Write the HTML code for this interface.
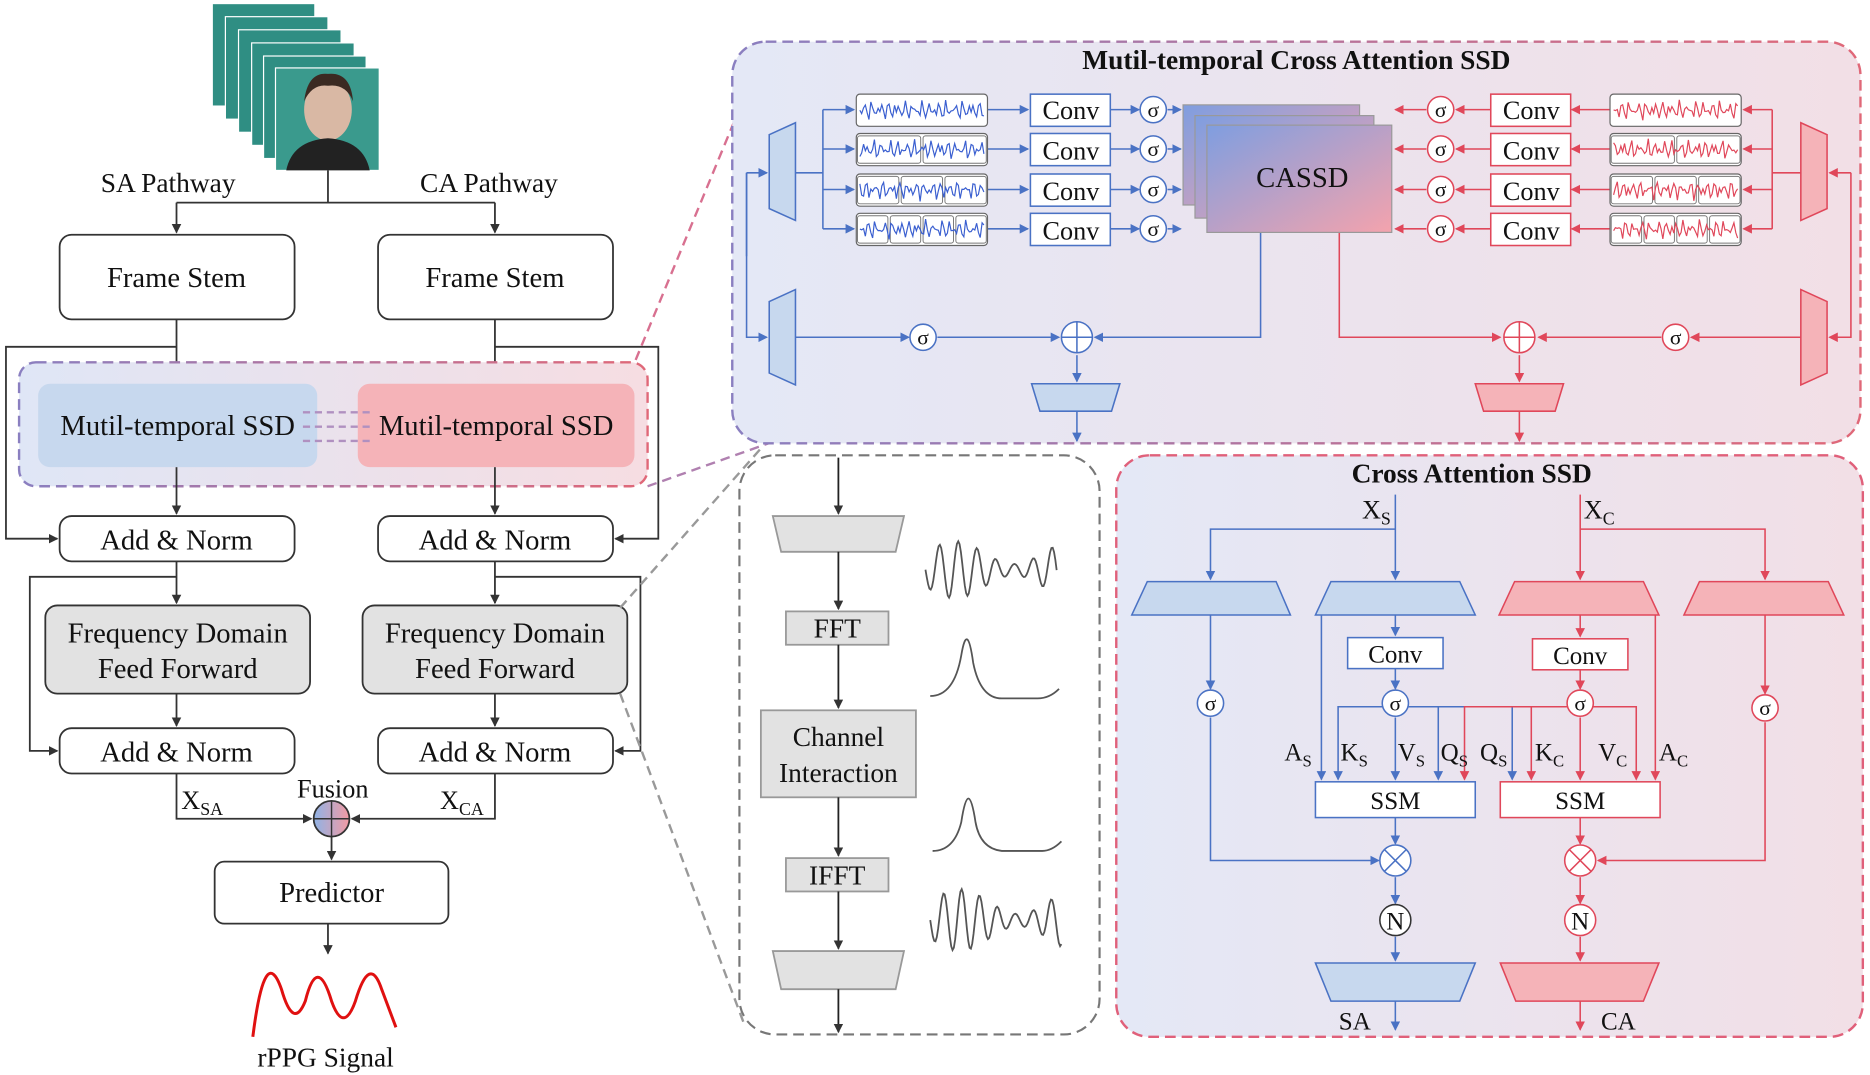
<!DOCTYPE html>
<html><head><meta charset="utf-8">
<style>
html,body{margin:0;padding:0;background:#fff;}
svg{display:block}
text{font-family:"Liberation Serif",serif;fill:#111}
</style></head><body>
<svg id="s" width="1870" height="1075" viewBox="0 0 1568 902" preserveAspectRatio="none" xmlns="http://www.w3.org/2000/svg">
<defs>
<marker id="ak" markerWidth="8" markerHeight="8" refX="7" refY="4" orient="auto" markerUnits="userSpaceOnUse"><path d="M0,0 L8,4 L0,8 z" fill="#333"/></marker>
<marker id="ab" markerWidth="8" markerHeight="8" refX="7" refY="4" orient="auto" markerUnits="userSpaceOnUse"><path d="M0,0 L8,4 L0,8 z" fill="#4a72c4"/></marker>
<marker id="ar" markerWidth="8" markerHeight="8" refX="7" refY="4" orient="auto" markerUnits="userSpaceOnUse"><path d="M0,0 L8,4 L0,8 z" fill="#e0475a"/></marker>
<linearGradient id="gbp" x1="0" x2="1" y1="0" y2="0"><stop offset="0" stop-color="#dfe6f6"/><stop offset="1" stop-color="#f6dde2"/></linearGradient>
<linearGradient id="gbp2" x1="0" x2="1" y1="0" y2="0"><stop offset="0" stop-color="#e4e8f6"/><stop offset="1" stop-color="#f2dfe6"/></linearGradient>
<linearGradient id="gcas" x1="0" x2="1" y1="0" y2="1"><stop offset="0" stop-color="#7f9ee0"/><stop offset="1" stop-color="#f4a3ad"/></linearGradient>
<linearGradient id="gfus" x1="0" x2="1"><stop offset="0" stop-color="#8fb3e6"/><stop offset="1" stop-color="#f39aa3"/></linearGradient>
<linearGradient id="gdash" x1="0" x2="1"><stop offset="0" stop-color="#8a7fc0"/><stop offset="1" stop-color="#e06878"/></linearGradient>
</defs>

<!-- face stack -->
<g>
<rect x="178" y="3" width="86" height="86" fill="#2f8e83" stroke="#fff"/>
<rect x="189" y="14" width="86" height="86" fill="#2f8e83" stroke="#fff"/>
<rect x="200" y="25" width="86" height="86" fill="#2f8e83" stroke="#fff"/>
<rect x="211" y="36" width="86" height="86" fill="#2f8e83" stroke="#fff"/>
<rect x="221" y="47" width="86" height="86" fill="#2f8e83" stroke="#fff"/>
<rect x="231" y="57" width="87" height="86" fill="#3a9a8d" stroke="#fff"/>
<ellipse cx="275" cy="92" rx="20" ry="26" fill="#d9b8a4"/>
<path d="M255,85 Q258,60 275,62 Q294,60 296,85 Q290,70 275,72 Q262,70 255,85z" fill="#3b2a22"/>
<path d="M240,143 Q245,118 275,116 Q305,118 310,143z" fill="#222"/>
</g>
<text x="141" y="161" font-size="23" text-anchor="middle">SA Pathway</text>
<text x="410" y="161" font-size="23" text-anchor="middle">CA Pathway</text>

<g stroke="#333" stroke-width="1.5" fill="none">
<path d="M275,143 V170 M148,170 H415"/>
<path d="M148,170 V195" marker-end="url(#ak)"/>
<path d="M415,170 V195" marker-end="url(#ak)"/>
<rect x="50" y="197" width="197" height="71" rx="10" fill="#fff"/>
<rect x="317" y="197" width="197" height="71" rx="10" fill="#fff"/>
<path d="M148,268 V320" marker-end="url(#ak)"/>
<path d="M415,268 V320" marker-end="url(#ak)"/>
<path d="M148,291 H5 V452 H48" marker-end="url(#ak)"/>
<path d="M415,291 H552 V452 H516" marker-end="url(#ak)"/>
</g>
<text x="148" y="241" font-size="24" text-anchor="middle">Frame Stem</text>
<text x="415" y="241" font-size="24" text-anchor="middle">Frame Stem</text>

<rect x="16" y="304" width="527" height="104" rx="14" fill="url(#gbp)" stroke="url(#gdash)" stroke-width="2" stroke-dasharray="9,5"/>
<rect x="32" y="322" width="234" height="70" rx="10" fill="#c7d8ee"/>
<rect x="300" y="322" width="232" height="70" rx="10" fill="#f5b3b8"/>
<text x="149" y="365" font-size="24" text-anchor="middle">Mutil-temporal SSD</text>
<text x="416" y="365" font-size="24" text-anchor="middle">Mutil-temporal SSD</text>
<g stroke="#b090c0" stroke-width="2" stroke-dasharray="6,4" fill="none">
<path d="M254,346 H310"/><path d="M254,358 H310"/><path d="M254,370 H310"/>
</g>

<g stroke="#333" stroke-width="1.5" fill="none">
<path d="M148,392 V431" marker-end="url(#ak)"/>
<path d="M415,392 V431" marker-end="url(#ak)"/>
<rect x="50" y="433" width="197" height="38" rx="10" fill="#fff"/>
<rect x="317" y="433" width="197" height="38" rx="10" fill="#fff"/>
<path d="M148,471 V506" marker-end="url(#ak)"/>
<path d="M415,471 V506" marker-end="url(#ak)"/>
<path d="M148,484 H25 V630 H48" marker-end="url(#ak)"/>
<path d="M415,484 H537 V630 H516" marker-end="url(#ak)"/>
<rect x="38" y="508" width="222" height="74" rx="10" fill="#e2e2e2"/>
<rect x="304" y="508" width="222" height="74" rx="10" fill="#e2e2e2"/>
<path d="M148,582 V609" marker-end="url(#ak)"/>
<path d="M415,582 V609" marker-end="url(#ak)"/>
<rect x="50" y="611" width="197" height="38" rx="10" fill="#fff"/>
<rect x="317" y="611" width="197" height="38" rx="10" fill="#fff"/>
<path d="M148,649 V687 H261" marker-end="url(#ak)"/>
<path d="M415,649 V687 H295" marker-end="url(#ak)"/>
<path d="M278,702 V721" marker-end="url(#ak)"/>
<rect x="180" y="723" width="196" height="52" rx="8" fill="#fff"/>
<path d="M275,775 V800" marker-end="url(#ak)"/>
</g>
<circle cx="278" cy="687" r="15" fill="url(#gfus)" stroke="#333" stroke-width="1.5"/>
<path d="M263,687 H293 M278,672 V702" stroke="#333" stroke-width="1.2"/>
<text x="148" y="461" font-size="24" text-anchor="middle">Add &amp; Norm</text>
<text x="415" y="461" font-size="24" text-anchor="middle">Add &amp; Norm</text>
<text x="149" y="539" font-size="24" text-anchor="middle">Frequency Domain</text>
<text x="149" y="569" font-size="24" text-anchor="middle">Feed Forward</text>
<text x="415" y="539" font-size="24" text-anchor="middle">Frequency Domain</text>
<text x="415" y="569" font-size="24" text-anchor="middle">Feed Forward</text>
<text x="148" y="639" font-size="24" text-anchor="middle">Add &amp; Norm</text>
<text x="415" y="639" font-size="24" text-anchor="middle">Add &amp; Norm</text>
<text x="279" y="669" font-size="22" text-anchor="middle">Fusion</text>
<text x="152" y="679" font-size="22">X<tspan font-size="15" dy="5">SA</tspan></text>
<text x="369" y="679" font-size="22">X<tspan font-size="15" dy="5">CA</tspan></text>
<text x="278" y="757" font-size="24" text-anchor="middle">Predictor</text>
<path d="M212,870 Q222,790 236,830 Q246,865 256,840 Q266,800 278,840 Q288,868 298,840 Q310,800 320,830 L332,862" stroke="#e01010" stroke-width="2.5" fill="none"/>
<text x="273" y="895" font-size="23" text-anchor="middle">rPPG Signal</text>

<!-- connectors -->
<g stroke-width="2" stroke-dasharray="8,5" fill="none">
<path d="M533,302 L628,72" stroke="#d87090"/>
<path d="M543,408 L650,370" stroke="#b080b0"/>
<path d="M520,510 L640,374" stroke="#999"/>
<path d="M520,582 L625,862" stroke="#999"/>
</g>

<!-- top right panel -->
<rect x="614" y="35" width="946" height="337" rx="28" fill="url(#gbp2)" stroke="url(#gdash)" stroke-width="2" stroke-dasharray="9,5"/>
<text x="1087" y="58" font-size="23" font-weight="bold" text-anchor="middle">Mutil-temporal Cross Attention SSD</text>
<g id="topb" stroke="#4a72c4" stroke-width="1.3" fill="none">
<path d="M645,113 L667,103 V185 L645,175 Z" fill="#c7d8ee"/>
<path d="M645,253 L667,243 V323 L645,313 Z" fill="#c7d8ee"/>
<path d="M626,145 V283 H643" marker-end="url(#ab)"/>
<path d="M626,145 H643" marker-end="url(#ab)"/>
<path d="M626,215 V145"/>
<path d="M667,145 H690 M690,92 V192"/>
<path d="M690,92 H716" marker-end="url(#ab)"/><path d="M690,125 H716" marker-end="url(#ab)"/><path d="M690,159 H716" marker-end="url(#ab)"/><path d="M690,192 H716" marker-end="url(#ab)"/>
<path d="M828,92 H862" marker-end="url(#ab)"/><path d="M828,125 H862" marker-end="url(#ab)"/><path d="M828,159 H862" marker-end="url(#ab)"/><path d="M828,192 H862" marker-end="url(#ab)"/>
<path d="M931,92 H955" marker-end="url(#ab)"/><path d="M931,125 H955" marker-end="url(#ab)"/><path d="M931,159 H955" marker-end="url(#ab)"/><path d="M931,192 H955" marker-end="url(#ab)"/>
<path d="M979,92 H990" marker-end="url(#ab)"/><path d="M979,125 H990" marker-end="url(#ab)"/><path d="M979,159 H990" marker-end="url(#ab)"/><path d="M979,192 H990" marker-end="url(#ab)"/>
<path d="M667,283 H762" marker-end="url(#ab)"/>
<path d="M786,283 H888" marker-end="url(#ab)"/>
<path d="M1057,195 V283 H918" marker-end="url(#ab)"/>
<path d="M903,298 V320" marker-end="url(#ab)"/>
<path d="M865,322 H939 L932,345 H872 Z" fill="#c7d8ee"/>
<path d="M903,345 V370" marker-end="url(#ab)"/>
</g>
<g stroke="#e0475a" stroke-width="1.3" fill="none">
<path d="M1532,113 L1510,103 V185 L1532,175 Z" fill="#f5b3b8"/>
<path d="M1532,253 L1510,243 V323 L1532,313 Z" fill="#f5b3b8"/>
<path d="M1552,145 V283 H1534" marker-end="url(#ar)"/>
<path d="M1552,145 H1534" marker-end="url(#ar)"/>
<path d="M1510,145 H1486 M1486,92 V192"/>
<path d="M1486,92 H1462" marker-end="url(#ar)"/><path d="M1486,125 H1462" marker-end="url(#ar)"/><path d="M1486,159 H1462" marker-end="url(#ar)"/><path d="M1486,192 H1462" marker-end="url(#ar)"/>
<path d="M1350,92 H1318" marker-end="url(#ar)"/><path d="M1350,125 H1318" marker-end="url(#ar)"/><path d="M1350,159 H1318" marker-end="url(#ar)"/><path d="M1350,192 H1318" marker-end="url(#ar)"/>
<path d="M1250,92 H1221" marker-end="url(#ar)"/><path d="M1250,125 H1221" marker-end="url(#ar)"/><path d="M1250,159 H1221" marker-end="url(#ar)"/><path d="M1250,192 H1221" marker-end="url(#ar)"/>
<path d="M1196,92 H1170" marker-end="url(#ar)"/><path d="M1196,125 H1170" marker-end="url(#ar)"/><path d="M1196,159 H1170" marker-end="url(#ar)"/><path d="M1196,192 H1170" marker-end="url(#ar)"/>
<path d="M1510,283 H1418" marker-end="url(#ar)"/>
<path d="M1393,283 H1290" marker-end="url(#ar)"/>
<path d="M1123,195 V283 H1258" marker-end="url(#ar)"/>
<path d="M1274,298 V320" marker-end="url(#ar)"/>
<path d="M1237,322 H1311 L1304,345 H1244 Z" fill="#f5b3b8"/>
<path d="M1274,345 V370" marker-end="url(#ar)"/>
</g>
<g id="sigs"></g>
<g fill="#fff" stroke-width="1.3">
<rect x="864" y="79" width="67" height="27" stroke="#4a72c4"/><rect x="864" y="112" width="67" height="27" stroke="#4a72c4"/><rect x="864" y="146" width="67" height="27" stroke="#4a72c4"/><rect x="864" y="179" width="67" height="27" stroke="#4a72c4"/>
<rect x="1250" y="79" width="67" height="27" stroke="#e0475a"/><rect x="1250" y="112" width="67" height="27" stroke="#e0475a"/><rect x="1250" y="146" width="67" height="27" stroke="#e0475a"/><rect x="1250" y="179" width="67" height="27" stroke="#e0475a"/>
</g>
<g font-size="22" text-anchor="middle">
<text x="898" y="100">Conv</text><text x="898" y="134">Conv</text><text x="898" y="168">Conv</text><text x="898" y="201">Conv</text>
<text x="1284" y="100">Conv</text><text x="1284" y="134">Conv</text><text x="1284" y="168">Conv</text><text x="1284" y="201">Conv</text>
</g>
<g fill="#fff" stroke-width="1.3">
<circle cx="967" cy="92" r="11" stroke="#4a72c4"/><circle cx="967" cy="125" r="11" stroke="#4a72c4"/><circle cx="967" cy="159" r="11" stroke="#4a72c4"/><circle cx="967" cy="192" r="11" stroke="#4a72c4"/>
<circle cx="1208" cy="92" r="11" stroke="#e0475a"/><circle cx="1208" cy="125" r="11" stroke="#e0475a"/><circle cx="1208" cy="159" r="11" stroke="#e0475a"/><circle cx="1208" cy="192" r="11" stroke="#e0475a"/>
<circle cx="774" cy="283" r="11" stroke="#4a72c4"/><circle cx="1405" cy="283" r="11" stroke="#e0475a"/>
<circle cx="903" cy="283" r="13" stroke="#4a72c4"/><circle cx="1274" cy="283" r="13" stroke="#e0475a"/>
</g>
<path d="M890,283 H916 M903,270 V296" stroke="#4a72c4" stroke-width="1.3"/>
<path d="M1261,283 H1287 M1274,270 V296" stroke="#e0475a" stroke-width="1.3"/>
<g font-size="18" text-anchor="middle">
<text x="967" y="98">σ</text><text x="967" y="131">σ</text><text x="967" y="165">σ</text><text x="967" y="198">σ</text>
<text x="1208" y="98">σ</text><text x="1208" y="131">σ</text><text x="1208" y="165">σ</text><text x="1208" y="198">σ</text>
<text x="774" y="289">σ</text><text x="1405" y="289">σ</text>
</g>
<g stroke="#999" stroke-width="1">
<rect x="992" y="88" width="148" height="84" fill="url(#gcas)"/>
<rect x="1002" y="97" width="150" height="86" fill="url(#gcas)"/>
<rect x="1012" y="105" width="155" height="90" fill="url(#gcas)"/>
</g>
<text x="1092" y="157" font-size="24" text-anchor="middle">CASSD</text>

<!-- middle panel -->
<rect x="620" y="382" width="302" height="486" rx="30" fill="#fff" stroke="#777" stroke-width="1.8" stroke-dasharray="9,5"/>
<g stroke="#222" stroke-width="1.5" fill="none">
<path d="M703,384 V431" marker-end="url(#ak)"/>
<path d="M648,433 H758 L751,463 H655 Z" fill="#e2e2e2" stroke="#999"/>
<path d="M703,463 V511" marker-end="url(#ak)"/>
<rect x="659" y="513" width="86" height="28" fill="#e2e2e2" stroke="#999"/>
<path d="M703,541 V594" marker-end="url(#ak)"/>
<rect x="638" y="596" width="130" height="73" fill="#e2e2e2" stroke="#999"/>
<path d="M703,669 V718" marker-end="url(#ak)"/>
<rect x="659" y="720" width="86" height="28" fill="#e2e2e2" stroke="#999"/>
<path d="M703,748 V796" marker-end="url(#ak)"/>
<path d="M648,798 H758 L751,830 H655 Z" fill="#e2e2e2" stroke="#999"/>
<path d="M703,830 V866" marker-end="url(#ak)"/>
</g>
<g font-size="23" text-anchor="middle">
<text x="702" y="535">FFT</text><text x="703" y="626">Channel</text><text x="703" y="656">Interaction</text><text x="702" y="742">IFFT</text>
</g>
<g id="mw" stroke="#555" stroke-width="1.5" fill="none">
<path d="M780,584 Q800,584 806,550 Q811,520 816,556 Q822,586 840,586 H870 Q880,586 888,578"/>
<path d="M782,714 Q800,714 806,690 Q812,650 818,690 Q822,712 840,714 H874 Q882,714 890,706"/>
</g>

<!-- bottom right panel -->
<rect x="936" y="382" width="626" height="488" rx="28" fill="url(#gbp2)" stroke="#e0607a" stroke-width="2" stroke-dasharray="9,5"/>
<text x="1234" y="405" font-size="23" font-weight="bold" text-anchor="middle">Cross Attention SSD</text>
<text x="1142" y="435" font-size="22">X<tspan font-size="15" dy="5">S</tspan></text>
<text x="1328" y="435" font-size="22">X<tspan font-size="15" dy="5">C</tspan></text>
<g stroke="#4a72c4" stroke-width="1.3" fill="none">
<path d="M1170,415 V486" marker-end="url(#ab)"/>
<path d="M1170,444 H1015 V486" marker-end="url(#ab)"/>
<path d="M962,488 H1070 L1082,516 H949 Z" fill="#c7d8ee"/>
<path d="M1116,488 H1224 L1237,516 H1103 Z" fill="#c7d8ee"/>
<path d="M1015,516 V578" marker-end="url(#ab)"/>
<path d="M1015,602 V722 H1156" marker-end="url(#ab)"/>
<path d="M1170,516 V533" marker-end="url(#ab)"/>
<rect x="1130" y="535" width="80" height="26" fill="#fff"/>
<path d="M1170,561 V578" marker-end="url(#ab)"/>
<path d="M1108,516 V654" marker-end="url(#ab)"/>
<path d="M1170,602 V654" marker-end="url(#ab)"/>
<path d="M1160,593 H1122 V654" marker-end="url(#ab)"/>
<path d="M1180,593 H1206 V654" marker-end="url(#ab)"/>
<path d="M1180,593 H1268 V654" marker-end="url(#ab)"/>
<rect x="1103" y="656" width="134" height="30" fill="#fff"/>
<path d="M1170,686 V708" marker-end="url(#ab)"/>
<path d="M1170,736 V758" marker-end="url(#ab)"/>
<path d="M1170,786 V806" marker-end="url(#ab)"/>
<path d="M1103,808 H1237 L1224,840 H1116 Z" fill="#c7d8ee"/>
<path d="M1170,840 V864" marker-end="url(#ab)"/>
</g>
<g stroke="#e0475a" stroke-width="1.3" fill="none">
<path d="M1325,415 V486" marker-end="url(#ar)"/>
<path d="M1325,444 H1480 V486" marker-end="url(#ar)"/>
<path d="M1270,488 H1378 L1391,516 H1257 Z" fill="#f5b3b8"/>
<path d="M1425,488 H1533 L1546,516 H1412 Z" fill="#f5b3b8"/>
<path d="M1480,516 V582" marker-end="url(#ar)"/>
<path d="M1480,606 V722 H1340" marker-end="url(#ar)"/>
<path d="M1325,516 V534" marker-end="url(#ar)"/>
<rect x="1285" y="536" width="80" height="26" fill="#fff"/>
<path d="M1325,562 V578" marker-end="url(#ar)"/>
<path d="M1388,516 V654" marker-end="url(#ar)"/>
<path d="M1325,602 V654" marker-end="url(#ar)"/>
<path d="M1335,593 H1372 V654" marker-end="url(#ar)"/>
<path d="M1315,593 H1284 V654" marker-end="url(#ar)"/>
<path d="M1315,593 H1228 V654" marker-end="url(#ar)"/>
<rect x="1258" y="656" width="134" height="30" fill="#fff"/>
<path d="M1325,686 V708" marker-end="url(#ar)"/>
<path d="M1325,736 V758" marker-end="url(#ar)"/>
<path d="M1325,786 V806" marker-end="url(#ar)"/>
<path d="M1258,808 H1391 L1378,840 H1271 Z" fill="#f5b3b8"/>
<path d="M1325,840 V864" marker-end="url(#ar)"/>
</g>
<g fill="#fff" stroke-width="1.3">
<circle cx="1015" cy="590" r="11" stroke="#4a72c4"/><circle cx="1170" cy="590" r="11" stroke="#4a72c4"/>
<circle cx="1325" cy="590" r="11" stroke="#e0475a"/><circle cx="1480" cy="594" r="11" stroke="#e0475a"/>
<circle cx="1170" cy="722" r="13" stroke="#4a72c4"/><circle cx="1325" cy="722" r="13" stroke="#e0475a"/>
<circle cx="1170" cy="772" r="13" stroke="#333"/><circle cx="1325" cy="772" r="13" stroke="#e0475a"/>
</g>
<path d="M1161,713 L1179,731 M1179,713 L1161,731" stroke="#4a72c4" stroke-width="1.3"/>
<path d="M1316,713 L1334,731 M1334,713 L1316,731" stroke="#e0475a" stroke-width="1.3"/>
<g font-size="18" text-anchor="middle">
<text x="1015" y="596">σ</text><text x="1170" y="596">σ</text><text x="1325" y="596">σ</text><text x="1480" y="600">σ</text>
</g>
<g font-size="21" text-anchor="middle">
<text x="1170" y="556">Conv</text><text x="1325" y="557">Conv</text>
<text x="1170" y="679">SSM</text><text x="1325" y="679">SSM</text>
<text x="1170" y="780">N</text><text x="1325" y="780">N</text>
<text x="1136" y="864">SA</text><text x="1357" y="864">CA</text>
</g>
<g font-size="21">
<text x="1077" y="638">A<tspan font-size="14" dy="5">S</tspan></text>
<text x="1124" y="638">K<tspan font-size="14" dy="5">S</tspan></text>
<text x="1172" y="638">V<tspan font-size="14" dy="5">S</tspan></text>
<text x="1208" y="638">Q<tspan font-size="14" dy="5">S</tspan></text>
<text x="1241" y="638">Q<tspan font-size="14" dy="5">S</tspan></text>
<text x="1287" y="638">K<tspan font-size="14" dy="5">C</tspan></text>
<text x="1340" y="638">V<tspan font-size="14" dy="5">C</tspan></text>
<text x="1391" y="638">A<tspan font-size="14" dy="5">C</tspan></text>
</g>
</svg>
<script>
(function(){
var ns="http://www.w3.org/2000/svg",g=document.getElementById("sigs");
function box(x,y,w,h,col,seg,seed){
 var r=document.createElementNS(ns,"rect");
 r.setAttribute("x",x);r.setAttribute("y",y);r.setAttribute("width",w);r.setAttribute("height",h);
 r.setAttribute("rx",3);r.setAttribute("fill","#fff");r.setAttribute("stroke","#666");g.appendChild(r);
 var sw=w/seg;
 for(var s=0;s<seg;s++){
  if(seg>1){var q=document.createElementNS(ns,"rect");q.setAttribute("x",x+s*sw+1);q.setAttribute("y",y+2);q.setAttribute("width",sw-2);q.setAttribute("height",h-4);q.setAttribute("rx",2);q.setAttribute("fill","none");q.setAttribute("stroke","#777");q.setAttribute("stroke-width","0.8");g.appendChild(q);}
 }
 var d="",n=Math.floor(w/1.6);
 for(var i=0;i<=n;i++){var t=i/n;var v=Math.sin(i*1.7+seed)*Math.sin(i*0.31+seed*2)*0.8+Math.sin(i*2.9)*0.2;
  d+=(i?"L":"M")+(x+3+t*(w-6)).toFixed(1)+","+(y+h/2+v*(h/2-4)).toFixed(1);}
 var p=document.createElementNS(ns,"path");p.setAttribute("d",d);p.setAttribute("stroke",col);p.setAttribute("fill","none");p.setAttribute("stroke-width","1");g.appendChild(p);
}
var ys=[79,112,146,179];
for(var k=0;k<4;k++){box(718,ys[k],110,27,"#3a5fd0",k+1,k);box(1350,ys[k],110,27,"#e0475a",k+1,k+3);}
var mw=document.getElementById("mw");
function wave(x0,y0,w,a,f){var d="";for(var i=0;i<=100;i++){var t=i/100;d+=(i?"L":"M")+(x0+t*w).toFixed(1)+","+(y0+Math.sin(t*f)*a*(0.6+0.4*Math.sin(t*7))).toFixed(1);}
 var p=document.createElementNS(ns,"path");p.setAttribute("d",d);mw.appendChild(p);}
wave(776,478,110,24,44);wave(780,772,110,26,46);
})();
</script>
</body></html>
